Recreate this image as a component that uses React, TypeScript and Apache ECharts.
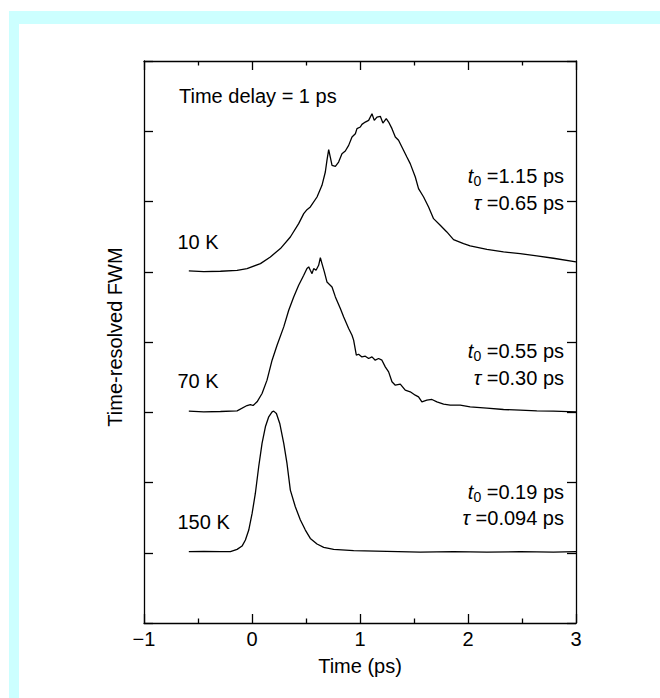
import React, { useEffect, useRef } from "react";
import * as echarts from "echarts";

const FONT = '"Liberation Sans", Arial, Helvetica, sans-serif';

// x-axis tick labels (value -> label)
const xTickValues = [-1, 0, 1, 2, 3];
const xTickLabels = ["\u22121", "0", "1", "2", "3"];

// 10 K curve (time in ps, offset intensity)
const t10 = [-0.585, -0.447, -0.292, -0.138, -0.046, 0.078, 0.17, 0.263, 0.355, 0.432, 0.479, 0.509, 0.54, 0.602, 0.648, 0.679, 0.694, 0.71, 0.725, 0.741, 0.772, 0.802, 0.833, 0.864, 0.895, 0.926, 0.957, 0.972, 1.003, 1.018, 1.049, 1.08, 1.111, 1.132, 1.157, 1.188, 1.212, 1.243, 1.265, 1.296, 1.327, 1.357, 1.388, 1.434, 1.465, 1.512, 1.542, 1.589, 1.635, 1.681, 1.743, 1.804, 1.866, 1.959, 2.02, 2.175, 2.329, 2.483, 2.637, 2.791, 3.0];
const y10 = [5.012, 5.002, 5.007, 5.021, 5.045, 5.116, 5.211, 5.33, 5.495, 5.685, 5.827, 5.884, 5.922, 6.064, 6.23, 6.42, 6.586, 6.738, 6.633, 6.515, 6.501, 6.562, 6.681, 6.719, 6.799, 6.918, 6.965, 7.037, 7.06, 7.098, 7.131, 7.155, 7.25, 7.155, 7.202, 7.212, 7.117, 7.179, 7.131, 7.037, 6.918, 6.871, 6.776, 6.633, 6.539, 6.349, 6.183, 6.064, 5.922, 5.756, 5.661, 5.567, 5.458, 5.401, 5.367, 5.32, 5.282, 5.258, 5.225, 5.192, 5.14];

// 70 K curve
const t70 = [-0.585, -0.447, -0.292, -0.138, -0.046, -0.015, 0.01, 0.047, 0.093, 0.139, 0.186, 0.232, 0.294, 0.34, 0.386, 0.432, 0.479, 0.509, 0.525, 0.54, 0.556, 0.571, 0.593, 0.617, 0.633, 0.648, 0.67, 0.694, 0.741, 0.772, 0.818, 0.849, 0.895, 0.926, 0.941, 0.966, 0.987, 1.018, 1.049, 1.08, 1.111, 1.141, 1.172, 1.203, 1.234, 1.265, 1.296, 1.327, 1.373, 1.419, 1.465, 1.512, 1.542, 1.573, 1.619, 1.666, 1.712, 1.774, 1.835, 1.928, 2.02, 2.175, 2.329, 2.483, 2.637, 2.791, 3.0];
const y70 = [3.016, 3.006, 3.011, 3.02, 3.096, 3.11, 3.096, 3.148, 3.267, 3.457, 3.741, 3.954, 4.215, 4.452, 4.642, 4.808, 4.95, 5.045, 5.069, 5.021, 4.974, 5.045, 5.021, 5.092, 5.201, 5.116, 4.998, 4.855, 4.784, 4.642, 4.476, 4.357, 4.192, 4.097, 4.026, 3.812, 3.826, 3.788, 3.798, 3.765, 3.788, 3.741, 3.765, 3.741, 3.646, 3.575, 3.433, 3.385, 3.4, 3.314, 3.291, 3.243, 3.219, 3.148, 3.172, 3.182, 3.148, 3.115, 3.101, 3.101, 3.077, 3.058, 3.039, 3.03, 3.02, 3.016, 3.006];

// 150 K curve
const t150 = [-0.585, -0.447, -0.292, -0.2, -0.138, -0.092, -0.061, -0.03, 0.001, 0.031, 0.062, 0.093, 0.124, 0.155, 0.186, 0.201, 0.226, 0.257, 0.294, 0.324, 0.355, 0.401, 0.448, 0.494, 0.54, 0.602, 0.664, 0.756, 0.941, 1.249, 1.558, 1.866, 2.175, 2.483, 2.791, 3.0];
const y150 = [1.015, 1.019, 1.015, 1.015, 1.048, 1.095, 1.181, 1.323, 1.56, 1.844, 2.224, 2.556, 2.793, 2.935, 3.006, 3.016, 2.982, 2.84, 2.556, 2.271, 1.892, 1.655, 1.465, 1.323, 1.204, 1.124, 1.076, 1.048, 1.029, 1.019, 1.01, 1.015, 1.01, 1.015, 1.01, 1.015];

const sampleNames = ["10 K", "70 K", "150 K"];
const t0Values = ["1.15", "0.55", "0.19"];
const tauValues = ["0.65", "0.30", "0.094"];

const zip = (a: number[], b: number[]) => a.map((v, i) => [v, b[i]]);

export default function App() {
  const ref = useRef<HTMLDivElement>(null);
  useEffect(() => {
    if (!ref.current) return;
    const chart = echarts.init(ref.current, undefined, { renderer: "svg" });
    const black = "#000";
    const lineW = 1.3;
    const baseAxis = {
      type: "value" as const,
      axisLine: { show: true, onZero: false, lineStyle: { color: black, width: lineW } },
      splitLine: { show: false },
    };
    const xCommon = {
      ...baseAxis,
      min: -1,
      max: 3,
      interval: 1,
      axisTick: { show: true, inside: true, length: 9, lineStyle: { color: black, width: lineW } },
      minorTick: { show: true, splitNumber: 2, length: 4.5, lineStyle: { color: black, width: lineW } },
      minorSplitLine: { show: false },
    };
    const yCommon = {
      ...baseAxis,
      min: 0,
      max: 8,
      interval: 1,
      axisTick: { show: true, inside: true, length: 9, lineStyle: { color: black, width: lineW } },
      axisLabel: { show: false },
    };
    const textStyle = { fontFamily: FONT, fontSize: 20, fill: black };
    const rich = {
      i: { fontFamily: FONT, fontSize: 20, fontStyle: "italic", lineHeight: 24, verticalAlign: "middle", color: black },
      s: { fontFamily: FONT, fontSize: 14, lineHeight: 14, verticalAlign: "bottom", color: black },
      n: { fontFamily: FONT, fontSize: 20, lineHeight: 24, verticalAlign: "middle", color: black },
    };
    const labelY = [241.7, 381, 521.7];
    const t0Y = [176, 351, 492];
    const tauY = [203, 378, 518];
    const graphics: any[] = [
      { type: "rect", z: -100, shape: { x: 9, y: 11, width: 700, height: 720 }, style: { fill: "#ccffff" } },
      { type: "rect", z: -99, shape: { x: 19, y: 24, width: 700, height: 720 }, style: { fill: "#ffffff" } },
      { type: "text", x: 179, y: 96, style: { ...textStyle, text: "Time delay = 1 ps", align: "left", verticalAlign: "middle" } },
      { type: "text", x: 115, y: 337, rotation: Math.PI / 2, style: { ...textStyle, text: "Time-resolved FWM", align: "center", verticalAlign: "middle" } },
    ];
    sampleNames.forEach((nm, k) => {
      graphics.push({ type: "text", x: 177.5, y: labelY[k], style: { ...textStyle, text: nm, align: "left", verticalAlign: "middle" } });
      graphics.push({
        type: "text", x: 564, y: t0Y[k],
        style: { text: `{i|t}{s|0}{n| =${t0Values[k]} ps}`, align: "right", verticalAlign: "middle", rich },
      });
      graphics.push({
        type: "text", x: 564, y: tauY[k],
        style: { text: `{i|\u03c4}{n| =${tauValues[k]} ps}`, align: "right", verticalAlign: "middle", rich },
      });
    });

    chart.setOption({
      animation: false,
      backgroundColor: "#ffffff",
      grid: { left: 144, top: 61, right: 84, bottom: 75, containLabel: false },
      xAxis: [
        {
          ...xCommon,
          position: "bottom",
          axisLabel: {
            show: true, margin: 6, color: black, fontFamily: FONT, fontSize: 20,
            formatter: (v: number) => {
              const i = xTickValues.indexOf(Math.round(v));
              return i >= 0 ? xTickLabels[i] : "";
            },
          },
          name: "Time (ps)",
          nameLocation: "middle",
          nameGap: 33,
          nameTextStyle: { color: black, fontFamily: FONT, fontSize: 20 },
        },
        { ...xCommon, position: "top", axisLabel: { show: false } },
      ],
      yAxis: [
        { ...yCommon, position: "left" },
        { ...yCommon, position: "right" },
      ],
      series: [
        { name: sampleNames[0], data: zip(t10, y10) },
        { name: sampleNames[1], data: zip(t70, y70) },
        { name: sampleNames[2], data: zip(t150, y150) },
      ].map((s) => ({
        ...s,
        type: "line",
        xAxisIndex: 0,
        yAxisIndex: 0,
        showSymbol: false,
        symbol: "none",
        lineStyle: { color: black, width: 1.3 },
        silent: true,
      })),
      graphic: graphics,
    });
    return () => chart.dispose();
  }, []);
  return <div ref={ref} style={{ position: "fixed", left: 0, top: 0, width: 660, height: 698 }} />;
}
